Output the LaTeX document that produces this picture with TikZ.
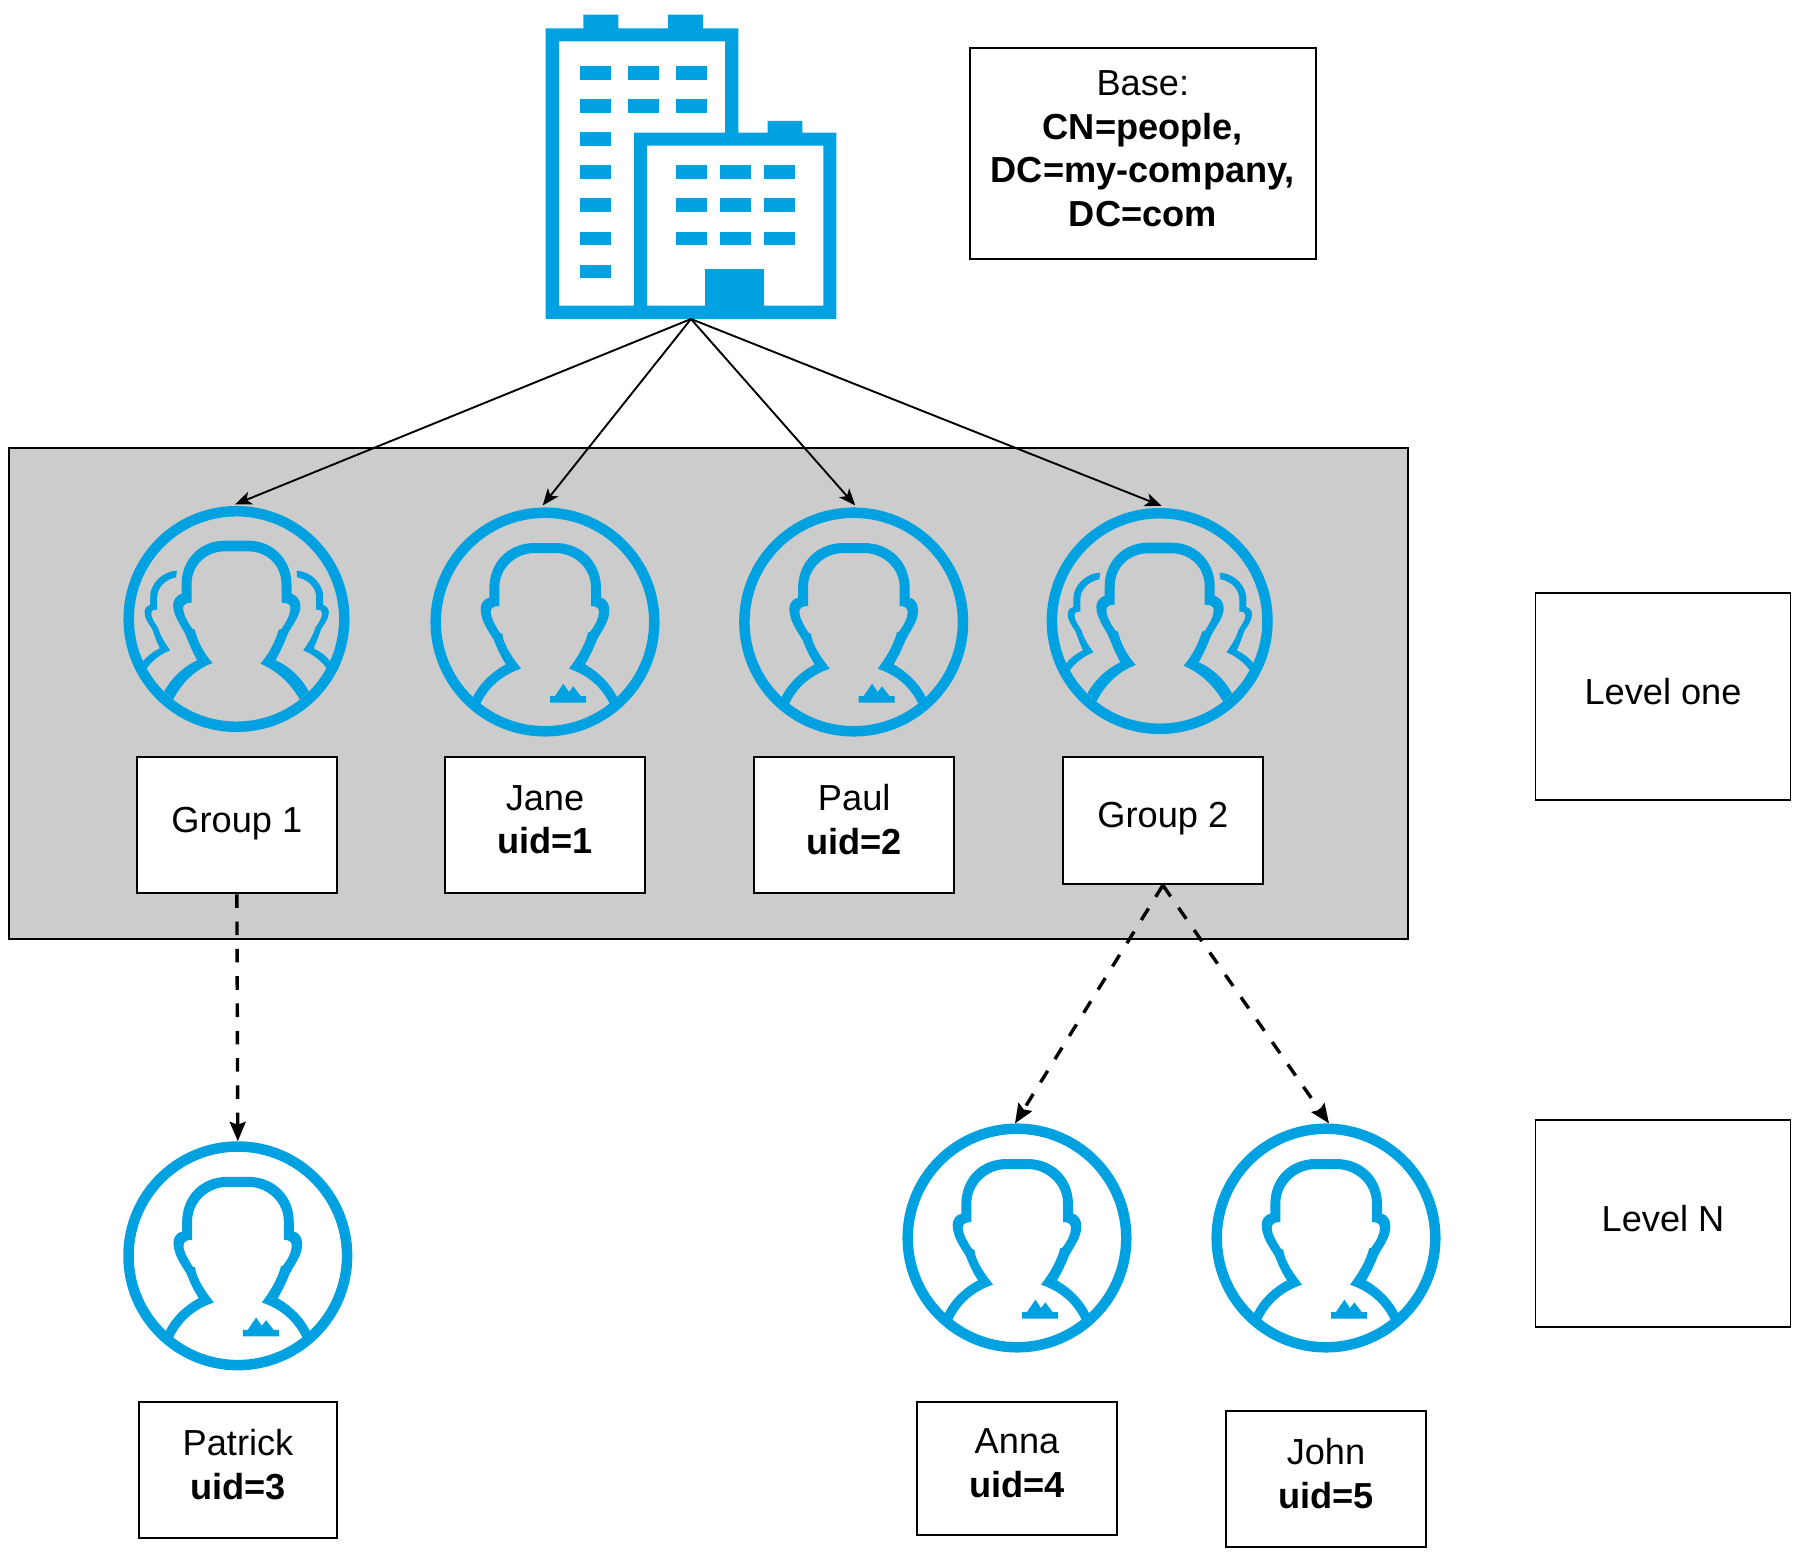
\documentclass[tikz,border=0pt]{standalone}
\usepackage{fontspec}
\setmainfont{Liberation Sans}
\usetikzlibrary{arrows.meta}
\newlength\pxl
\setlength\pxl{0.02cm}
\definecolor{iconblue}{HTML}{00A1E0}
\definecolor{bandgray}{HTML}{CCCCCC}
\newcommand{\lowstrut}{\rule[-11\pxl]{0pt}{0pt}}
\newcommand{\sidefigurepath}{
    \fill[iconblue] (97,518) .. controls (110,500) and (130,485) .. (150,476)
      .. controls (140,455) and (133,435) .. (127,418)
      .. controls (115,400) and (104,385) .. (104,368)
      .. controls (104,357) and (110,349) .. (121,346)
      -- (121,320) .. controls (121,285) and (155,245) .. (201,243)
      -- (199,263) .. controls (170,268) and (143,290) .. (142,322)
      -- (142,360) .. controls (130,360) and (124,362) .. (124,370)
      .. controls (124,385) and (135,400) .. (145,415)
      .. controls (150,435) and (165,460) .. (181,482)
      .. controls (155,492) and (127,512) .. (110,537) -- cycle;
}
\tikzset{
  boxnode/.style={draw=black,fill=white,line width=1.9\pxl,inner sep=0pt,align=center,
    font=\fontsize{20.6pt}{24.7pt}\selectfont},
  entrybox/.style={boxnode,minimum width=200.3\pxl},
  ringnode/.style={circle,draw=iconblue,line width=10.5\pxl,inner sep=0pt,minimum size=218.6\pxl},
  crowdring/.style={ringnode,minimum size=215.6\pxl},
  treelink/.style={draw=black,line width=1.9\pxl,-{Stealth[length=9.5pt,width=7.6pt,inset=2.4pt]}},
  sublink/.style={draw=black,line width=3.4\pxl,dash pattern=on 13.6\pxl off 13.7\pxl,
    -{Stealth[length=11pt,width=9pt,inset=1.6pt]}},
  person/.pic={
    \begin{scope}[scale=1/3,shift={(-375,-395)}]
    \fill[iconblue] (158,622) .. controls (178,580) and (215,545) .. (258,522)
      .. controls (240,495) and (230,470) .. (222,450)
      .. controls (205,420) and (183,395) .. (182,355)
      .. controls (182,340) and (192,325) .. (208,322)
      -- (208,295) .. controls (208,215) and (265,158) .. (345,158)
      -- (405,158) .. controls (485,158) and (543,215) .. (543,295)
      -- (543,322) .. controls (558,325) and (568,340) .. (568,360)
      .. controls (568,395) and (545,420) .. (530,450)
      .. controls (520,475) and (510,497) .. (495,522)
      .. controls (535,545) and (572,580) .. (592,622)
      -- (570,642)
      .. controls (545,590) and (505,555) .. (447,535)
      .. controls (470,505) and (495,465) .. (505,425)
      -- (510,425) .. controls (525,405) and (537,385) .. (537,365)
      .. controls (537,352) and (528,347) .. (513,347)
      -- (513,290) .. controls (513,235) and (465,188) .. (405,188)
      -- (345,188) .. controls (285,188) and (238,235) .. (238,290)
      -- (238,347) .. controls (222,347) and (212,352) .. (212,365)
      .. controls (212,385) and (232,415) .. (240,428)
      -- (247,430) .. controls (250,465) and (280,505) .. (303,535)
      .. controls (245,555) and (205,590) .. (180,642) -- cycle;
    \fill[iconblue] (390,617) -- (405,617) -- (430,580) -- (447,605) -- (460,588)
      -- (482,617) -- (498,617) -- (498,637) -- (390,637) -- cycle;
    \end{scope}
  },
  crowd/.pic={
    \begin{scope}[scale=1/3,shift={(-380,-388)}]
    \fill[iconblue] (163,605) .. controls (185,565) and (222,530) .. (262,512)
      .. controls (245,480) and (235,455) .. (225,430)
      .. controls (208,400) and (190,375) .. (190,345)
      .. controls (190,330) and (200,318) .. (215,312)
      -- (215,285) .. controls (215,210) and (270,153) .. (345,153)
      -- (415,153) .. controls (490,153) and (545,210) .. (545,285)
      -- (545,312) .. controls (560,318) and (572,330) .. (572,350)
      .. controls (572,375) and (552,400) .. (535,430)
      .. controls (525,455) and (515,480) .. (497,512)
      .. controls (540,530) and (575,565) .. (597,605)
      -- (570,630)
      .. controls (545,585) and (505,545) .. (452,522)
      .. controls (475,495) and (495,460) .. (507,420)
      -- (515,418) .. controls (530,395) and (542,375) .. (542,355)
      .. controls (542,345) and (535,339) .. (515,339)
      -- (515,285) .. controls (515,225) and (470,185) .. (415,185)
      -- (345,185) .. controls (290,185) and (245,225) .. (245,285)
      -- (245,339) .. controls (228,339) and (220,345) .. (220,355)
      .. controls (220,375) and (235,400) .. (248,418)
      -- (255,420) .. controls (262,455) and (285,495) .. (308,520)
      .. controls (255,540) and (215,580) .. (190,630) -- cycle;
    \sidefigurepath
    \begin{scope}[shift={(761,0)},xscale=-1]
      \sidefigurepath
    \end{scope}
    \end{scope}
  }
}
\begin{document}
\begin{tikzpicture}[x=1\pxl,y=-1\pxl]
\useasboundingbox (0,0) rectangle (1799,1554);

% grey band
\node[draw=black,fill=bandgray,line width=1.9\pxl,inner sep=0pt,minimum width=1399.3\pxl,minimum height=490.3\pxl] (band) at (708.65,693.4) {};

% building
\node[inner sep=0pt,outer sep=0pt,minimum width=290.6\pxl,minimum height=304.3\pxl] (bld) at (691,166.85) {};
\fill[iconblue,even odd rule]
  (545.7,319) -- (545.7,28.3) -- (583.3,28.3) -- (583.3,14.7) -- (618.3,14.7) -- (618.3,28.3)
  -- (668,28.3) -- (668,14.7) -- (703,14.7) -- (703,28.3) -- (738.3,28.3) -- (738.3,132.7)
  -- (767.7,132.7) -- (767.7,121) -- (802.3,121) -- (802.3,132.7) -- (836.3,132.7) -- (836.3,319) -- cycle
  (559,41.3) -- (725,41.3) -- (725,132.7) -- (634,132.7) -- (634,305.7) -- (559,305.7) -- cycle
  (647,145.7) rectangle (823.3,305.7);
\fill[iconblue] (704.7,269) rectangle (764,306);
\foreach \wy in {66,99,132.3,165.3,198.3,231.7,264.7}
  \fill[iconblue] (580,\wy) rectangle +(30.7,13.7);
\foreach \wx in {627.7,675.7} \foreach \wy in {66,99}
  \fill[iconblue] (\wx,\wy) rectangle +(31,13.7);
\foreach \wx in {675.7,720,764} \foreach \wy in {165.3,198.3,231.7}
  \fill[iconblue] (\wx,\wy) rectangle +(31,13.7);

% base box
\node[boxnode,minimum width=345.7\pxl,minimum height=210.7\pxl] (base) at (1142.85,153.35)
  {Base:\\\textbf{CN=people,}\\\textbf{DC=my-company,}\\\textbf{DC=com}\rule[-9.5\pxl]{0pt}{0pt}};

% level boxes
\node[boxnode,minimum width=255\pxl,minimum height=207\pxl] (lone) at (1663,696.8) {Level one\lowstrut};
\node[boxnode,minimum width=255\pxl,minimum height=207\pxl] (lnn) at (1663,1223.7) {Level N\lowstrut};

% entry rings
\node[crowdring] (c1) at (236.5,619) {};
\node[ringnode] (c2) at (545,622) {};
\node[ringnode] (c3) at (853.7,622) {};
\node[crowdring] (c4) at (1159.7,621) {};
\node[ringnode] (c5) at (237.8,1255.8) {};
\node[ringnode] (c6) at (1017,1238) {};
\node[ringnode] (c7) at (1326,1238) {};

\pic at (236.5,619) {crowd};
\pic at (545,622) {person};
\pic at (853.7,622) {person};
\pic at (1159.7,621) {crowd};
\pic at (237.8,1255.8) {person};
\pic at (1017,1238) {person};
\pic at (1326,1238) {person};

% entry boxes
\node[entrybox,minimum height=136.6\pxl] (b1) at (236.85,825) {Group 1\lowstrut};
\node[entrybox,minimum height=136.6\pxl] (b2) at (545,825) {Jane\\\textbf{uid=1}\lowstrut};
\node[entrybox,minimum height=136.6\pxl] (b3) at (854.2,825) {Paul\\\textbf{uid=2}\lowstrut};
\node[entrybox,minimum height=127.6\pxl] (b4) at (1162.85,820.5) {Group 2\lowstrut};
\node[entrybox,minimum width=198.6\pxl,minimum height=136.6\pxl] (b5) at (238,1470) {Patrick\\\textbf{uid=3}\lowstrut};
\node[entrybox,minimum height=133.6\pxl] (b6) at (1017,1468.5) {Anna\\\textbf{uid=4}\lowstrut};
\node[entrybox,minimum height=136.6\pxl] (b7) at (1326,1479) {John\\\textbf{uid=5}\lowstrut};

% connectors
\draw[treelink] (bld.south) -- ([xshift=-1.5\pxl,yshift=1.5\pxl]c1.north);
\draw[treelink] (bld.south) -- ([xshift=-2.3\pxl,yshift=2\pxl]c2.north);
\draw[treelink] (bld.south) -- ([xshift=1.5\pxl,yshift=2\pxl]c3.north);
\draw[treelink] (bld.south) -- ([xshift=2\pxl,yshift=2\pxl]c4.north);
\draw[sublink] (b1.south) -- (c5.north);
\draw[sublink] (b4.south) -- ([xshift=-2\pxl]c6.north);
\draw[sublink] (b4.south) -- ([xshift=3\pxl]c7.north);
\end{tikzpicture}
\end{document}
